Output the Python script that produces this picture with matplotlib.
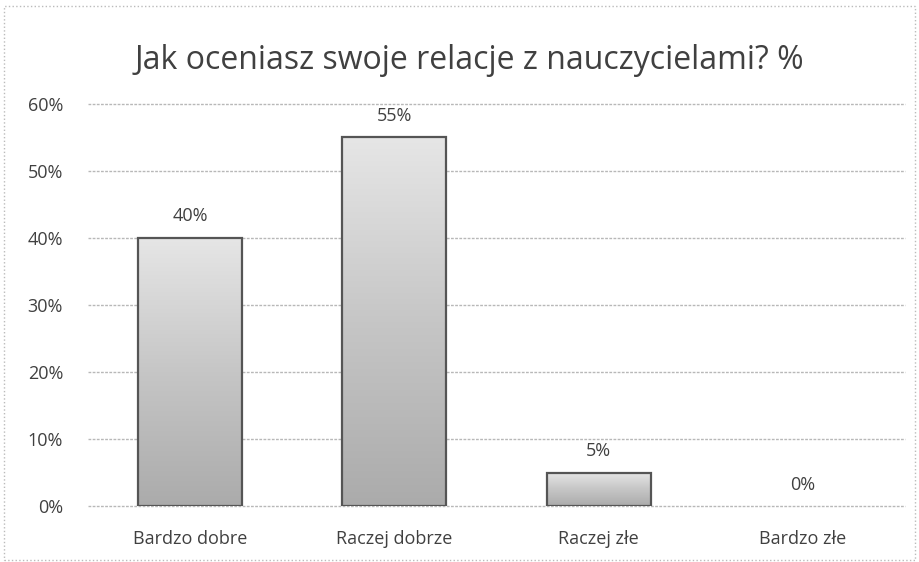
import numpy as np
import matplotlib
matplotlib.use("Agg")
import matplotlib.pyplot as plt
from matplotlib.colors import LinearSegmentedColormap

categories = ["Bardzo dobre", "Raczej dobrze", "Raczej złe", "Bardzo złe"]
values = [0.40, 0.55, 0.05, 0.00]
value_labels = ["40%", "55%", "5%", "0%"]
yticks = [0, 0.1, 0.2, 0.3, 0.4, 0.5, 0.6]
ytick_labels = ["0%", "10%", "20%", "30%", "40%", "50%", "60%"]
title = "Jak oceniasz swoje relacje z nauczycielami? %"

plt.rcParams['font.family'] = ['Open Sans', 'DejaVu Sans']

fig = plt.figure(figsize=(9.19, 5.62), dpi=100)
ax = fig.add_axes([0.0958, 0.0996, 0.889, 0.7154])

x = np.arange(len(categories))
bars = ax.bar(x, values, width=0.51, color='none', edgecolor='#555555', linewidth=1.6, zorder=3)

cmap = LinearSegmentedColormap.from_list('g', ['#ababab', '#c6c6c6', '#e6e6e6'])
grad = np.linspace(0, 1, 256).reshape(-1, 1)
for b, v in zip(bars, values):
    if v <= 0:
        b.set_linewidth(0)
        continue
    x0 = b.get_x()
    w = b.get_width()
    im = ax.imshow(grad, extent=[x0, x0 + w, 0, v], origin='lower', aspect='auto',
                   cmap=cmap, zorder=2, interpolation='bilinear')
    im.set_clip_path(b)

for xi, v, lab in zip(x, values, value_labels):
    ax.annotate(lab, (xi, v), xytext=(0, 9), textcoords='offset points',
                ha='center', va='bottom', fontsize=13, color='#404040')

ax.set_xlim(-0.5, len(categories) - 0.5)
ax.set_ylim(0, 0.6)
ax.set_yticks(yticks)
ax.set_yticklabels(ytick_labels, fontsize=13, color='#404040')
ax.set_xticks(x)
ax.set_xticklabels(categories, fontsize=13, color='#404040')
ax.tick_params(axis='x', length=0, pad=17)
ax.tick_params(axis='y', length=0, pad=18)
for s in ax.spines.values():
    s.set_visible(False)
ax.grid(axis='y', color='#b8b8b8', linewidth=1.0, linestyle=(0, (2, 1)), zorder=0)
for gl in ax.get_ygridlines():
    gl.set_clip_on(False)
ax.set_axisbelow(True)

fig.text(0.511, 0.893, title, ha='center', va='center', fontsize=23, color='#404040')

border = plt.Rectangle((0.004, 0.004), 0.992, 0.985, transform=fig.transFigure,
                       fill=False, edgecolor='#bbbbbb', linewidth=1, linestyle=':')
fig.patches.append(border)

fig.savefig("out.png", dpi=100)
